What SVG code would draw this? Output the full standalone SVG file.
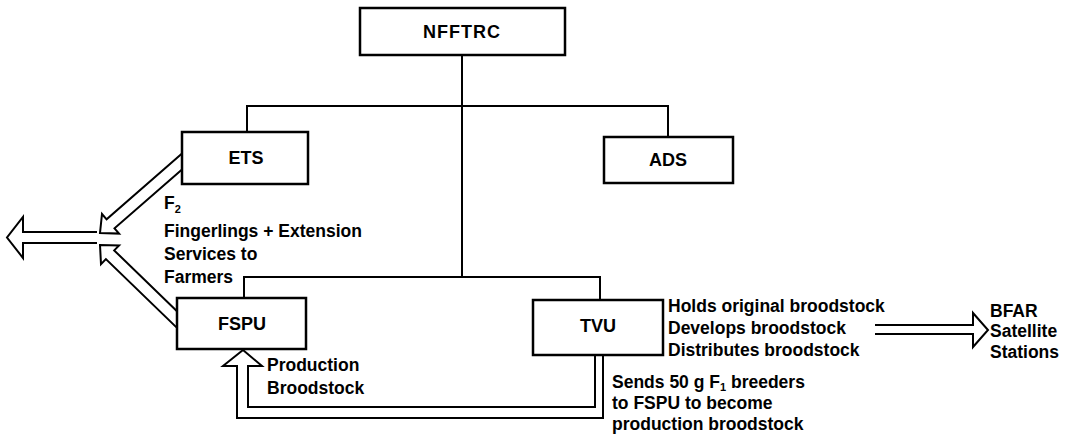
<svg xmlns="http://www.w3.org/2000/svg" width="1074" height="443" viewBox="0 0 1074 443">
<style>
.box{fill:#fff;stroke:#000;stroke-width:2.5}
.conn{fill:none;stroke:#000;stroke-width:2}
.arr{fill:#fff;stroke:#000;stroke-width:2;stroke-linejoin:miter}
.lbl{font-family:"Liberation Sans",Arial,sans-serif;font-weight:bold;font-size:17.5px;fill:#000}
.nl{font-family:"Liberation Sans",Arial,sans-serif;font-weight:bold;font-size:18px;fill:#000;text-anchor:middle}
.sub{font-size:11px}
</style>
<rect width="1074" height="443" fill="#fff"/>
<g id="connectors">
  <polyline class="conn" points="462,55 462,277"/>
  <polyline class="conn" points="247,132 247,106 668,106 668,137"/>
  <polyline class="conn" points="244,298 244,277 600,277 600,300"/>
  <polyline class="arr" points="182,153.6 106.6,219.3 102,214 100,233 119.1,233.6 114.5,228.3 182,169.5"/>
  <polyline class="arr" points="177,311.2 114.2,250.4 119.1,245.4 100,245 101,264.1 105.9,259.1 177,327.9"/>
  <polyline class="arr" points="97,232 23,232 23,217 7,237.5 23,258 23,243 97,243"/>
  <polyline class="arr" points="875,325 973,325 973,313 988,330 973,347 973,334 875,334"/>
  <polyline class="arr" points="595,355 595,407 248,407 248,366 262,366 243,350 223,366 237,366 237,418 603,418 603,355"/>
</g>
<g id="NFFTRC">
  <rect class="box" x="360" y="8" width="205" height="47"/>
  <text class="nl" x="462" y="38" letter-spacing="1">NFFTRC</text>
</g>
<g id="ETS">
  <rect class="box" x="182" y="132" width="126" height="52"/>
  <text class="nl" x="246" y="164">ETS</text>
</g>
<g id="ADS">
  <rect class="box" x="604" y="137" width="129" height="46"/>
  <text class="nl" x="668" y="166">ADS</text>
</g>
<g id="FSPU">
  <rect class="box" x="177" y="298" width="129" height="51"/>
  <text class="nl" x="242" y="330">FSPU</text>
</g>
<g id="TVU">
  <rect class="box" x="533" y="300" width="130" height="55"/>
  <text class="nl" x="598" y="332">TVU</text>
</g>
<g id="labels">
  <text class="lbl" x="164" y="209">F<tspan class="sub" dy="4">2</tspan></text>
  <text class="lbl" x="164" y="237">Fingerlings + Extension</text>
  <text class="lbl" x="164" y="260">Services to</text>
  <text class="lbl" x="164" y="283">Farmers</text>
  <text class="lbl" x="267" y="371">Production</text>
  <text class="lbl" x="267" y="394">Broodstock</text>
  <text class="lbl" x="668" y="312">Holds original broodstock</text>
  <text class="lbl" x="668" y="334">Develops broodstock</text>
  <text class="lbl" x="668" y="356">Distributes broodstock</text>
  <text class="lbl" x="990" y="317">BFAR</text>
  <text class="lbl" x="990" y="337">Satellite</text>
  <text class="lbl" x="990" y="358">Stations</text>
  <text class="lbl" x="612" y="388">Sends 50 g F<tspan class="sub" dy="3">1</tspan><tspan dy="-3"> breeders</tspan></text>
  <text class="lbl" x="612" y="409">to FSPU to become</text>
  <text class="lbl" x="612" y="430">production broodstock</text>
</g>
</svg>
